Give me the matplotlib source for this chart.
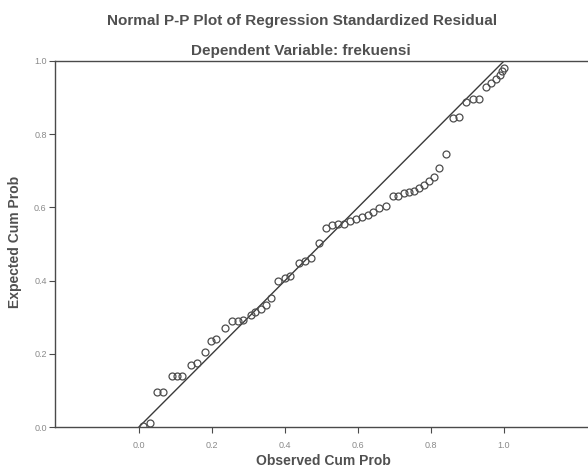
import matplotlib
matplotlib.use("Agg")
import matplotlib.pyplot as plt

plt.rcParams['font.family'] = ['Liberation Sans', 'DejaVu Sans']

# Observed vs expected cumulative probabilities
observed = [0.011, 0.031, 0.050, 0.066, 0.091, 0.105, 0.119, 0.143, 0.160, 0.182,
            0.198, 0.212, 0.237, 0.256, 0.270, 0.286, 0.306, 0.319, 0.333, 0.349,
            0.363, 0.382, 0.399, 0.413, 0.437, 0.454, 0.470, 0.492, 0.511, 0.528,
            0.544, 0.561, 0.577, 0.594, 0.610, 0.627, 0.641, 0.657, 0.676, 0.696,
            0.709, 0.726, 0.740, 0.753, 0.767, 0.781, 0.794, 0.808, 0.822, 0.841,
            0.860, 0.877, 0.896, 0.915, 0.932, 0.951, 0.965, 0.979, 0.988, 0.995,
            1.000]
expected = [0.003, 0.011, 0.096, 0.096, 0.140, 0.140, 0.140, 0.170, 0.175, 0.205,
            0.236, 0.241, 0.271, 0.290, 0.290, 0.293, 0.306, 0.315, 0.323, 0.334,
            0.353, 0.400, 0.408, 0.413, 0.449, 0.454, 0.462, 0.504, 0.545, 0.552,
            0.555, 0.555, 0.563, 0.569, 0.574, 0.580, 0.588, 0.599, 0.605, 0.630,
            0.632, 0.638, 0.641, 0.646, 0.653, 0.662, 0.673, 0.684, 0.709, 0.745,
            0.843, 0.848, 0.889, 0.897, 0.897, 0.930, 0.941, 0.951, 0.962, 0.974,
            0.982]
ticks = [0.0, 0.2, 0.4, 0.6, 0.8, 1.0]
tick_labels = ["0.0", "0.2", "0.4", "0.6", "0.8", "1.0"]

W, H = 588, 473
ax_left, ax_top, ax_bottom = 55, 61, 427
fig = plt.figure(figsize=(W / 100, H / 100), dpi=100)
ax = fig.add_axes([ax_left / W, 1 - ax_bottom / H, 1 - ax_left / W,
                   (ax_bottom - ax_top) / H])

axis_col = "#4a4a4a"
text_col = "#505050"

# reference diagonal
ax.plot([0, 1], [0, 1], color="#3a3a3a", lw=1.0, zorder=2)

ax.plot(observed, expected, linestyle="none", marker="o", markersize=5,
        markerfacecolor="none", markeredgecolor="#4d4d4d", markeredgewidth=0.9,
        zorder=3)

ax.set_xlim(-0.23, 1.23)
ax.set_ylim(0, 1)
ax.set_xticks(ticks)
ax.set_xticklabels(tick_labels)
ax.set_yticks(ticks)
ax.set_yticklabels(tick_labels)
ax.tick_params(direction="out", length=4, width=0.8, color=axis_col,
               labelsize=6.5, labelcolor="#8a8a8a")
ax.tick_params(axis="x", pad=6)
ax.tick_params(axis="y", pad=2)

for side in ["left", "bottom", "top"]:
    ax.spines[side].set_color(axis_col)
    ax.spines[side].set_linewidth(1.0)
ax.spines["right"].set_visible(False)

ax.set_xlabel("Observed Cum Prob", fontsize=10, fontweight="bold",
              color=text_col)
ax.xaxis.set_label_coords((323 - ax_left) / (W - ax_left),
                          -(454 - ax_bottom) / (ax_bottom - ax_top))
ax.set_ylabel("Expected Cum Prob", fontsize=10, fontweight="bold",
              color=text_col)
ax.yaxis.set_label_coords(-(ax_left - 22) / (W - ax_left),
                          (ax_bottom - 242) / (ax_bottom - ax_top))

fig.text(302 / W, 1 - 21 / H, "Normal P-P Plot of Regression Standardized Residual",
         ha="center", va="center", fontsize=11, fontweight="bold", color=text_col)
fig.text(301 / W, 1 - 51 / H, "Dependent Variable: frekuensi",
         ha="center", va="center", fontsize=11, fontweight="bold", color=text_col)

fig.savefig("out.png", dpi=100)
